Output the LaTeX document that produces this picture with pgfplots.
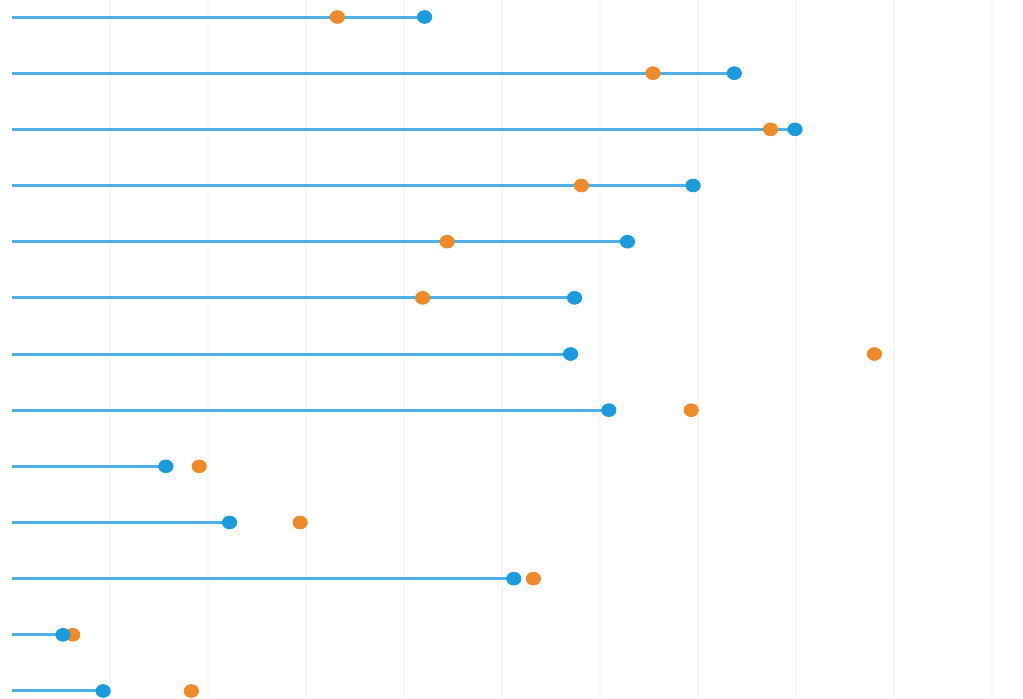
\documentclass[border=0pt]{standalone}
\usepackage{pgfplots}
\pgfplotsset{compat=1.18}
\definecolor{lineblue}{HTML}{4EB0E4}
\definecolor{dotblue}{HTML}{1B9BDD}
\definecolor{dotorange}{HTML}{EE8A2A}
\definecolor{gridgray}{HTML}{F7F7F7}
\begin{document}
\begin{tikzpicture}
\begin{axis}[
  name=ax,
  scale only axis,
  width=511.5pt, height=349pt,
  xmin=-0.1224, xmax=10.316,
  ymin=-0.125, ymax=12.303,
  axis line style={draw=none},
  xtick={1,2,3,4,5,6,7,8,9,10},
  ytick=\empty,
  xticklabels={},
  major tick length=0pt,
  xmajorgrids,
  grid style={gridgray, line width=0.8pt},
  clip=false,
]
% blue values (bottom row first)
\addplot[xcomb, lineblue, line width=1.5pt, no marks] coordinates {
 (0.93,0) (0.52,1) (5.12,2) (2.22,3) (1.57,4) (6.09,5) (5.70,6)
 (5.74,7) (6.28,8) (6.95,9) (7.99,10) (7.37,11) (4.21,12)
};
\addplot[only marks, mark=*, mark size=3.2pt, dotorange, mark options={draw=dotorange, fill=dotorange, xscale=1.12}] coordinates {
 (1.83,0) (0.62,1) (5.32,2) (2.94,3) (1.91,4) (6.93,5) (8.80,6)
 (4.19,7) (4.44,8) (5.81,9) (7.74,10) (6.54,11) (3.32,12)
};
\addplot[only marks, mark=*, mark size=3.2pt, dotblue, mark options={draw=dotblue, fill=dotblue, xscale=1.12}] coordinates {
 (0.93,0) (0.52,1) (5.12,2) (2.22,3) (1.57,4) (6.09,5) (5.70,6)
 (5.74,7) (6.28,8) (6.95,9) (7.99,10) (7.37,11) (4.21,12)
};
\end{axis}
\pgfresetboundingbox
\path[use as bounding box] (ax.south west) rectangle (ax.north east);
\end{tikzpicture}
\end{document}
